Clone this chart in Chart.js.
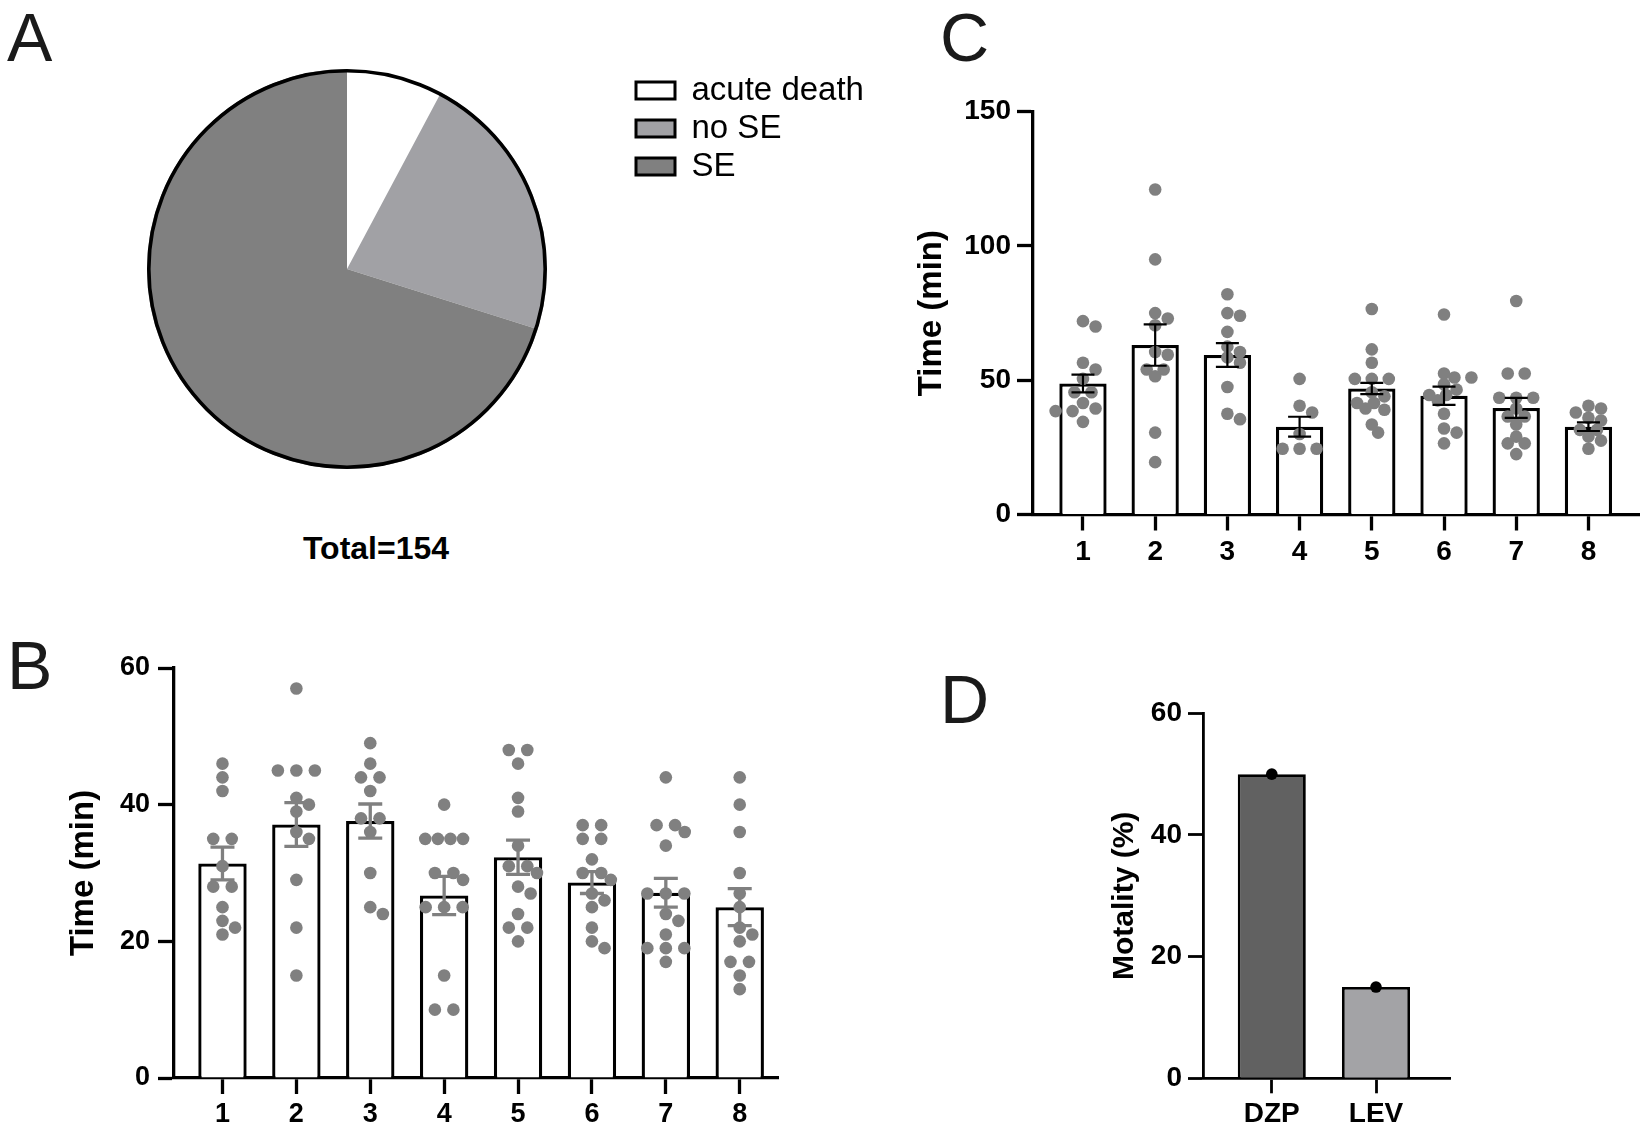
<!DOCTYPE html>
<html>
<head>
<meta charset="utf-8">
<script src="https://cdn.jsdelivr.net/npm/chart.js@4.4.1/dist/chart.umd.min.js"></script>
<style>
  html, body { margin: 0; padding: 0; background: #fff; }
  #page { position: relative; width: 1646px; height: 1134px; overflow: hidden; background: #fff;
          font-family: "Liberation Sans", Arial, sans-serif; }
  canvas { position: absolute; }
  .panel { position: absolute; font-size: 68px; line-height: 68px; color: #1a1a1a; }
  #total { position: absolute; left: 376px; top: 532px; transform: translateX(-50%);
           font-weight: bold; font-size: 32px; line-height: 32px; color: #000; white-space: nowrap; }
</style>
</head>
<body>
<div id="page">
  <div class="panel" style="left:7px; top:3px">A</div>
  <div class="panel" style="left:7px; top:631px">B</div>
  <div class="panel" style="left:940px; top:3px">C</div>
  <div class="panel" style="left:940px; top:665px">D</div>
  <div id="total">Total=154</div>
  <canvas id="pie" width="860" height="431" style="left:40px; top:49px"></canvas>
  <canvas id="chartB" width="800" height="514" style="left:0px; top:620px"></canvas>
  <canvas id="chartC" width="766" height="540" style="left:880px; top:60px"></canvas>
  <canvas id="chartD" width="440" height="474" style="left:1040px; top:660px"></canvas>
</div>
<script>
// ---- data ----
const pieLabels = ['acute death', 'no SE', 'SE'];
const pieCounts = [12, 34, 108];
const pieColors = ['#ffffff', '#a1a1a5', '#808080'];

const groupLabels = ['1', '2', '3', '4', '5', '6', '7', '8'];

// B: time per group, bar = mean, whisker = SEM, dots = animals
const bMeans = [31.4, 37.1, 37.6, 26.7, 32.3, 28.6, 27.1, 25.0];
const bSems = [2.4, 3.2, 2.5, 2.8, 2.5, 1.6, 2.1, 2.7];
const bDots = [
  [46, 44, 42, 35, 35, 31, 28, 28, 25, 23, 22, 21],
  [57, 45, 45, 45, 41, 40, 39, 36, 35, 29, 22, 15],
  [49, 46, 44, 44, 42, 38, 38, 36, 30, 25, 24],
  [40, 35, 35, 35, 35, 30, 30, 29, 25, 25, 25, 15, 10, 10],
  [48, 48, 46, 41, 39, 34, 31, 31, 30, 28, 27, 24, 22, 22, 20],
  [37, 37, 35, 35, 32, 30, 30, 29, 27, 26, 25, 22, 20, 19],
  [44, 37, 37, 36, 34, 27, 27, 27, 24, 23, 21, 19, 19, 19, 17],
  [44, 40, 36, 30, 27, 25, 22, 21, 20, 17, 17, 15, 13],
];

// C
const cMeans = [48.8, 63.1, 59.4, 32.7, 46.9, 44.2, 39.7, 32.7];
const cSems = [3.3, 7.7, 4.4, 3.7, 2.1, 3.4, 3.7, 1.6];
const cDots = [
  [72, 70, 56.5, 54, 50.5, 45.5, 45.5, 41.5, 39.5, 38.5, 38.5, 34.5],
  [121, 95, 75, 73, 70.5, 60.5, 59.5, 54, 54, 51.5, 30.5, 19.5],
  [82, 75, 74, 68, 62.5, 60.5, 58.5, 56.5, 47.5, 37.5, 35.5],
  [50.5, 40.5, 38, 30, 24.5, 24.5, 24.5],
  [76.5, 61.5, 56.5, 50.5, 50.5, 50.5, 45.5, 44, 41.5, 41.5, 39.5, 39, 33.5, 30.5],
  [74.5, 52.5, 51, 51, 48.5, 46.5, 44.5, 44.5, 42.5, 37.5, 32, 30.5, 26.5],
  [79.5, 52.5, 52.5, 43.5, 43.5, 43.5, 39.5, 36.5, 36.5, 33.5, 29, 26.5, 26.5, 22.5],
  [40.5, 39.5, 38, 36, 35, 31.5, 31.5, 29, 27.5, 24.5],
];

// D
const dLabels = ['DZP', 'LEV'];
const dValues = [50, 15];
const dColors = ['#616161', '#a3a3a6'];

// ---- helpers ----
Chart.defaults.font.family = '"Liberation Sans", Arial, sans-serif';
Chart.defaults.color = '#000';
Chart.defaults.animation = false;
Chart.defaults.events = [];
Chart.defaults.plugins.tooltip.enabled = false;

const DOT_GREY = '#808080';

function errorBarsPlugin(means, sems, style) {
  return {
    id: 'errorBars',
    afterDatasetsDraw(chart) {
      const { ctx } = chart;
      const y = chart.scales.y;
      const meta = chart.getDatasetMeta(0);
      ctx.save();
      ctx.strokeStyle = style.color;
      ctx.lineWidth = style.width;
      meta.data.forEach((bar, i) => {
        const hi = y.getPixelForValue(means[i] + sems[i]);
        const lo = y.getPixelForValue(means[i] - sems[i]);
        const h = style.cap / 2;
        ctx.beginPath();
        ctx.moveTo(bar.x, hi); ctx.lineTo(bar.x, lo);
        ctx.moveTo(bar.x - h, hi); ctx.lineTo(bar.x + h, hi);
        ctx.moveTo(bar.x - h, lo); ctx.lineTo(bar.x + h, lo);
        ctx.stroke();
      });
      ctx.restore();
    },
  };
}

// simple beeswarm: equal values form a centred row, rows slide sideways until free
function swarmPx(vals, yScale, d, gap, overlap) {
  const order = vals.map((v, i) => i).sort((a, b) => vals[b] - vals[a]);
  const placed = [];
  const offs = new Array(vals.length).fill(0);
  const minDist = d * overlap;
  let k = 0;
  while (k < order.length) {
    const row = [order[k]];
    while (k + row.length < order.length && vals[order[k + row.length]] === vals[order[k]]) {
      row.push(order[k + row.length]);
    }
    const py = yScale.getPixelForValue(vals[order[k]]);
    const step = row.length >= 4 ? d : gap;
    const base = row.map((_, j) => (j - (row.length - 1) / 2) * step);
    let shift = 0;
    for (let s = 0; s < 60; s++) {
      const m = Math.ceil(s / 2);
      shift = (s % 2 === 1 ? 1 : -1) * m * d / 2;
      const hit = base.some((b) => placed.some((p) => {
        const dx = b + shift - p.dx, dy = py - p.py;
        return dx * dx + dy * dy < minDist * minDist;
      }));
      if (!hit) break;
    }
    row.forEach((idx, j) => {
      offs[idx] = base[j] + shift;
      placed.push({ dx: base[j] + shift, py });
    });
    k += row.length;
  }
  return offs;
}

function fillDots(chart, groups, d, gap, overlap) {
  const xs = chart.scales.x, ys = chart.scales.y;
  const pxPerUnit = xs.getPixelForValue(2) - xs.getPixelForValue(1);
  const pts = [];
  groups.forEach((vals, g) => {
    const offs = swarmPx(vals, ys, d, gap, overlap);
    vals.forEach((v, i) => pts.push({ x: g + 1 + offs[i] / pxPerUnit, y: v }));
  });
  chart.data.datasets[1].data = pts;
  chart.update();
}

function axisStyle(lineW, tickLen) {
  return {
    grid: { drawOnChartArea: false, drawTicks: true, tickLength: tickLen, tickWidth: lineW,
            tickColor: '#000', offset: false },
    border: { display: true, color: '#000', width: lineW },
  };
}

function barPanel(canvasId, cfg) {
  const ax = axisStyle(cfg.lineW, cfg.tickLen);
  return new Chart(document.getElementById(canvasId), {
    type: 'bar',
    data: {
      datasets: [
        {
          type: 'bar',
          data: cfg.values.map((v, i) => ({ x: i + 1, y: v })),
          backgroundColor: cfg.barColors,
          borderColor: '#000',
          borderWidth: cfg.lineW,
          borderSkipped: 'start',
          barPercentage: cfg.barPct,
          categoryPercentage: 1,
          order: 2,
        },
        {
          type: 'scatter',
          data: cfg.points || [],
          pointRadius: cfg.dotR,
          pointBackgroundColor: cfg.dotColor,
          pointBorderWidth: 0,
          showLine: false,
          order: 1,
        },
      ],
    },
    options: {
      responsive: false,
      devicePixelRatio: 1,
      layout: { padding: cfg.padding },
      plugins: { legend: { display: false } },
      scales: {
        x: {
          type: 'linear',
          min: cfg.xMin, max: cfg.xMax,
          offset: false,
          z: 1,
          ...ax,
          afterBuildTicks: (axis) => { axis.ticks = cfg.labels.map((_, i) => ({ value: i + 1 })); },
          afterFit: (axis) => { axis.height = cfg.xHeight; },
          ticks: {
            autoSkip: false, maxRotation: 0, padding: cfg.xTickPad,
            font: { size: cfg.tickFont, weight: 'bold' },
            callback: (v) => cfg.labels[Math.round(v) - 1] || '',
          },
        },
        y: {
          min: 0, max: cfg.yMax,
          ...ax,
          afterFit: (axis) => { axis.width = cfg.yWidth; },
          ticks: { stepSize: cfg.yStep, padding: cfg.yTickPad, font: { size: cfg.tickFont, weight: 'bold' } },
          title: { display: true, text: cfg.yTitle, font: { size: cfg.titleFont, weight: 'bold' },
                   padding: { top: cfg.titlePad, bottom: 0 } },
        },
      },
    },
    plugins: cfg.plugins || [],
  });
}

// ---- A: pie ----
const outerRing = {
  id: 'outerRing',
  afterDatasetsDraw(chart) {
    const arc = chart.getDatasetMeta(0).data[0];
    const { ctx } = chart;
    ctx.save();
    ctx.strokeStyle = '#000';
    ctx.lineWidth = 3.6;
    ctx.beginPath();
    ctx.arc(arc.x, arc.y, arc.outerRadius - 1.8, 0, Math.PI * 2);
    ctx.stroke();
    ctx.restore();
  },
};

const pie = new Chart(document.getElementById('pie'), {
  type: 'pie',
  data: {
    labels: pieLabels,
    datasets: [{ data: pieCounts, backgroundColor: pieColors, borderWidth: 0, hoverOffset: 0, offset: 0 }],
  },
  options: {
    responsive: false,
    devicePixelRatio: 1,
    layout: { padding: { left: 23, top: 20, bottom: 11, right: 25 } },
    plugins: {
      legend: {
        position: 'right',
        align: 'start',
        labels: {
          boxWidth: 39, boxHeight: 17, padding: 5,
          font: { size: 33 },
          color: '#000',
          generateLabels: () => pieLabels.map((t, i) => ({
            text: t, fillStyle: pieColors[i], strokeStyle: '#000', lineWidth: 3,
            hidden: false, index: i, fontColor: '#000',
          })),
        },
      },
    },
  },
  plugins: [outerRing],
});
// legend box should start where the pie's chart area ends (x = 631 on the page)
pie.options.layout.padding.right = (900 - 631) - pie.legend.width;
pie.update();

// ---- B ----
const chartB = barPanel('chartB', {
  values: bMeans, labels: groupLabels, barColors: '#ffffff',
  lineW: 3.3, tickLen: 16, barPct: 0.655,
  dotR: 6.3, dotColor: DOT_GREY,
  padding: { left: 0, top: 48, right: 22, bottom: 0 },
  xMin: 0.344, xMax: 8.518, xHeight: 56, xTickPad: 4,
  yMax: 60, yStep: 20, yWidth: 174, yTickPad: 8,
  tickFont: 27, yTitle: 'Time (min)', titleFont: 33, titlePad: 64,
  plugins: [errorBarsPlugin(bMeans, bSems, { color: DOT_GREY, width: 3.3, cap: 24 })],
});
fillDots(chartB, bDots, 12.6, 18.5, 0.92);

// ---- C ----
const chartC = barPanel('chartC', {
  values: cMeans, labels: groupLabels, barColors: '#ffffff',
  lineW: 3.3, tickLen: 16, barPct: 0.655,
  dotR: 6.3, dotColor: DOT_GREY,
  padding: { left: 0, top: 51.7, right: 6, bottom: 25.5 },
  xMin: 0.308, xMax: 8.71, xHeight: 60, xTickPad: 5,
  yMax: 150, yStep: 50, yWidth: 153, yTickPad: 6,
  tickFont: 28, yTitle: 'Time (min)', titleFont: 33, titlePad: 32,
  plugins: [errorBarsPlugin(cMeans, cSems, { color: '#000', width: 2.2, cap: 23 })],
});
fillDots(chartC, cDots, 12.6, 17, 0.78);

// ---- D ----
barPanel('chartD', {
  values: dValues, labels: dLabels, barColors: dColors,
  lineW: 2.8, tickLen: 15, barPct: 0.653,
  dotR: 5.8, dotColor: '#000',
  points: dValues.map((v, i) => ({ x: i + 1, y: v })),
  padding: { left: 0, top: 53.3, right: 30, bottom: 0 },
  xMin: 0.34, xMax: 2.71, xHeight: 55.7, xTickPad: 4,
  yMax: 60, yStep: 20, yWidth: 163, yTickPad: 6,
  tickFont: 28, yTitle: 'Motality (%)', titleFont: 30, titlePad: 67,
});
</script>
</body>
</html>
